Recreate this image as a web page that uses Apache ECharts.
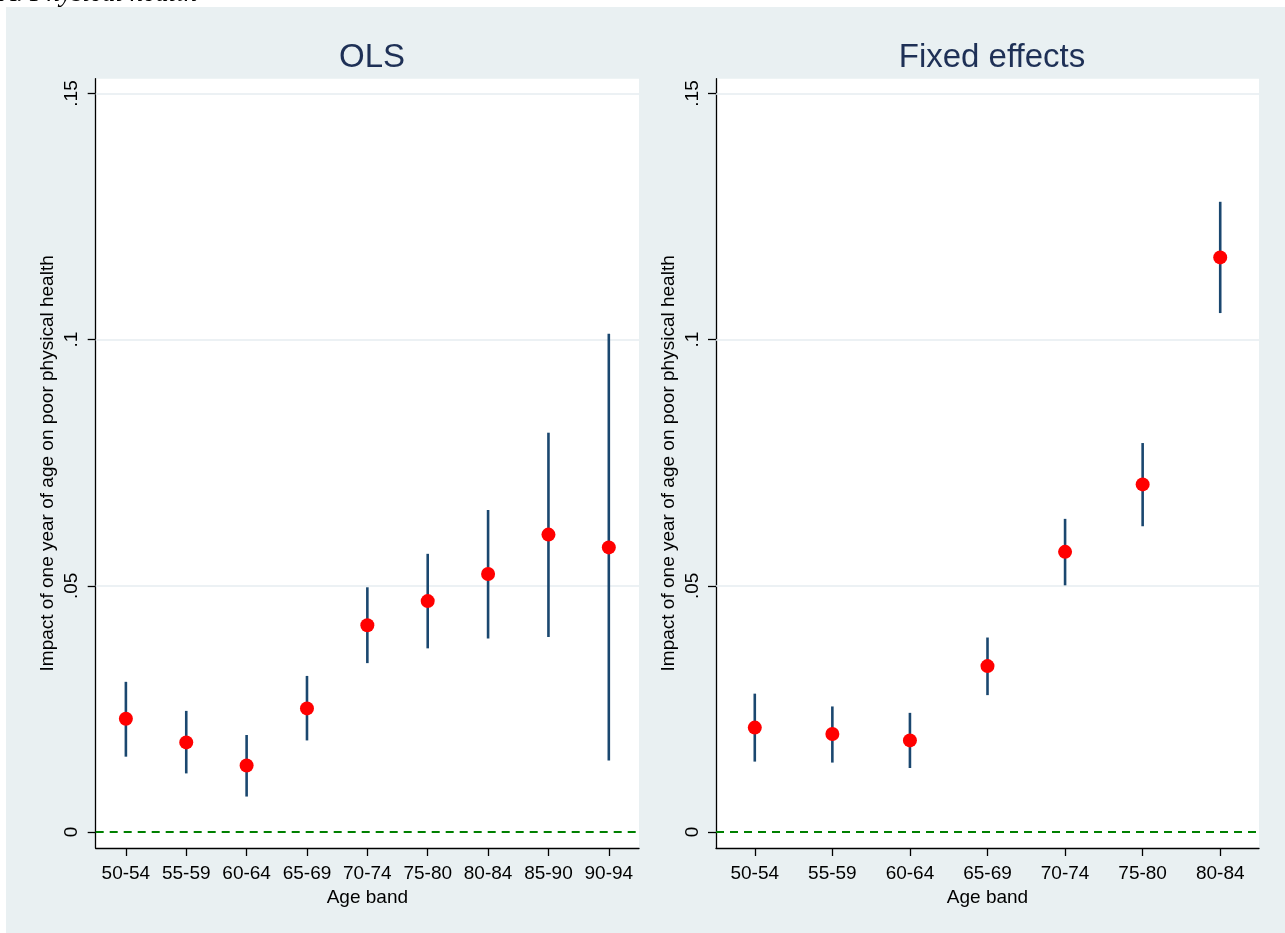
<!DOCTYPE html>
<html>
<head>
<meta charset="utf-8">
<script src="https://cdn.jsdelivr.net/npm/echarts@6/dist/echarts.min.js"></script>
<style>
html,body{margin:0;padding:0;background:#fff;}
#c{width:1285px;height:933px;}
</style>
</head>
<body>
<div id="c"></div>
<script>
// ---- data ----
const olsCategories = ['50-54','55-59','60-64','65-69','70-74','75-80','80-84','85-90','90-94'];
const olsEstimate = [0.0230, 0.0182, 0.0135, 0.0251, 0.0420, 0.0469, 0.0524, 0.0604, 0.0578];
const olsUpper    = [0.0305, 0.0246, 0.0197, 0.0317, 0.0497, 0.0565, 0.0654, 0.0811, 0.1012];
const olsLower    = [0.0153, 0.0119, 0.0072, 0.0186, 0.0343, 0.0373, 0.0393, 0.0396, 0.0145];

const feCategories = ['50-54','55-59','60-64','65-69','70-74','75-80','80-84'];
const feEstimate = [0.0212, 0.0199, 0.0186, 0.0337, 0.0569, 0.0706, 0.1167];
const feUpper    = [0.0281, 0.0255, 0.0242, 0.0395, 0.0636, 0.0790, 0.1280];
const feLower    = [0.0143, 0.0141, 0.0130, 0.0278, 0.0501, 0.0621, 0.1054];

const yTicks = [0, 0.05, 0.1, 0.15];
const gridValues = [0.05, 0.1, 0.15];
const panelTitles = ['OLS', 'Fixed effects'];
const yAxisTitle = 'Impact of one year of age on poor physical health';
const xAxisTitle = 'Age band';
const headerText = 'A. Physical health';

// ---- styles ----
const BG = '#E9F0F2';
const NAVY = '#1A476F';
const FONT = 'Liberation Sans, Arial, sans-serif';
const FS = 19;

function fmt(v){
  if (Math.abs(v) < 1e-9) return '0';
  let s = String(+v.toFixed(4));
  return s.replace(/^0\./, '.');
}

function yAxis(idx){
  return {
    type: 'value', gridIndex: idx, min: -0.00325, max: 0.153,
    name: yAxisTitle, nameLocation: 'middle', nameRotate: 90, nameGap: 38,
    nameTextStyle: {color: '#000', fontSize: FS, fontFamily: FONT},
    axisLine: {show: true, lineStyle: {color: '#000', width: 1.3}},
    axisTick: {show: true, length: 8, customValues: yTicks, lineStyle: {color: '#000', width: 1.3}},
    axisLabel: {show: true, customValues: yTicks, rotate: 90, margin: 14, color: '#000', fontSize: FS, fontFamily: FONT, formatter: fmt},
    splitLine: {show: false}
  };
}
function xAxis(idx, cats){
  return {
    type: 'category', gridIndex: idx, data: cats,
    name: xAxisTitle, nameLocation: 'middle', nameGap: 31,
    nameTextStyle: {color: '#000', fontSize: FS, fontFamily: FONT},
    axisLine: {show: true, onZero: false, lineStyle: {color: '#000', width: 1.3}},
    axisTick: {show: true, alignWithLabel: true, length: 8, lineStyle: {color: '#000', width: 1.3}},
    axisLabel: {show: true, margin: 16, color: '#000', fontSize: FS, fontFamily: FONT, interval: 0},
    splitLine: {show: false}
  };
}
function errBars(idx, lower, upper){
  return {
    type: 'custom', xAxisIndex: idx, yAxisIndex: idx, z: 3,
    data: lower.map((l, i) => [i, l, upper[i]]),
    renderItem: function(params, api){
      const p1 = api.coord([api.value(0), api.value(1)]);
      const p2 = api.coord([api.value(0), api.value(2)]);
      return {type: 'line', shape: {x1: p1[0], y1: p1[1], x2: p2[0], y2: p2[1]},
              style: {stroke: NAVY, lineWidth: 2.6}};
    },
    markLine: {
      silent: true, symbol: 'none', z: 1, label: {show: false},
      data: gridValues.map(v => ({yAxis: v, lineStyle: {color: '#E6EDF1', width: 1.6, type: 'solid'}}))
        .concat([{yAxis: 0, lineStyle: {color: '#008000', width: 2, type: [8, 6]}}])
    }
  };
}
function points(idx, est){
  return {
    type: 'scatter', xAxisIndex: idx, yAxisIndex: idx, z: 5,
    data: est.map((v, i) => [i, v]),
    symbol: 'circle', symbolSize: 14,
    itemStyle: {color: '#FF0000', opacity: 1}
  };
}

const chart = echarts.init(document.getElementById('c'), null, {renderer: 'canvas'});
chart.setOption({
  animation: false,
  backgroundColor: '#fff',
  graphic: [
    {type: 'rect', z: -10, shape: {x: 6, y: 7, width: 1285, height: 933}, style: {fill: BG}},
    {type: 'rect', z: -9, shape: {x: 95.7, y: 78.7, width: 543.3, height: 769.3}, style: {fill: '#fff'}},
    {type: 'rect', z: -9, shape: {x: 716, y: 78.7, width: 543, height: 769.3}, style: {fill: '#fff'}},
    {type: 'text', z: -11, x: 0, y: -20, style: {text: headerText, fill: '#000', font: 'italic 27px "Liberation Serif", serif'}}
  ],
  title: [
    {text: panelTitles[0], left: 367, top: 36, textAlign: 'center', textStyle: {color: '#1E3056', fontSize: 33, fontWeight: 'normal', fontFamily: FONT}},
    {text: panelTitles[1], left: 987, top: 36, textAlign: 'center', textStyle: {color: '#1E3056', fontSize: 33, fontWeight: 'normal', fontFamily: FONT}}
  ],
  grid: [
    {left: 95.7, top: 78.7, width: 543.3, height: 769.3, containLabel: false},
    {left: 716, top: 78.7, width: 543, height: 769.3, containLabel: false}
  ],
  xAxis: [xAxis(0, olsCategories), xAxis(1, feCategories)],
  yAxis: [yAxis(0), yAxis(1)],
  series: [
    errBars(0, olsLower, olsUpper), points(0, olsEstimate),
    errBars(1, feLower, feUpper), points(1, feEstimate)
  ]
});
</script>
</body>
</html>
